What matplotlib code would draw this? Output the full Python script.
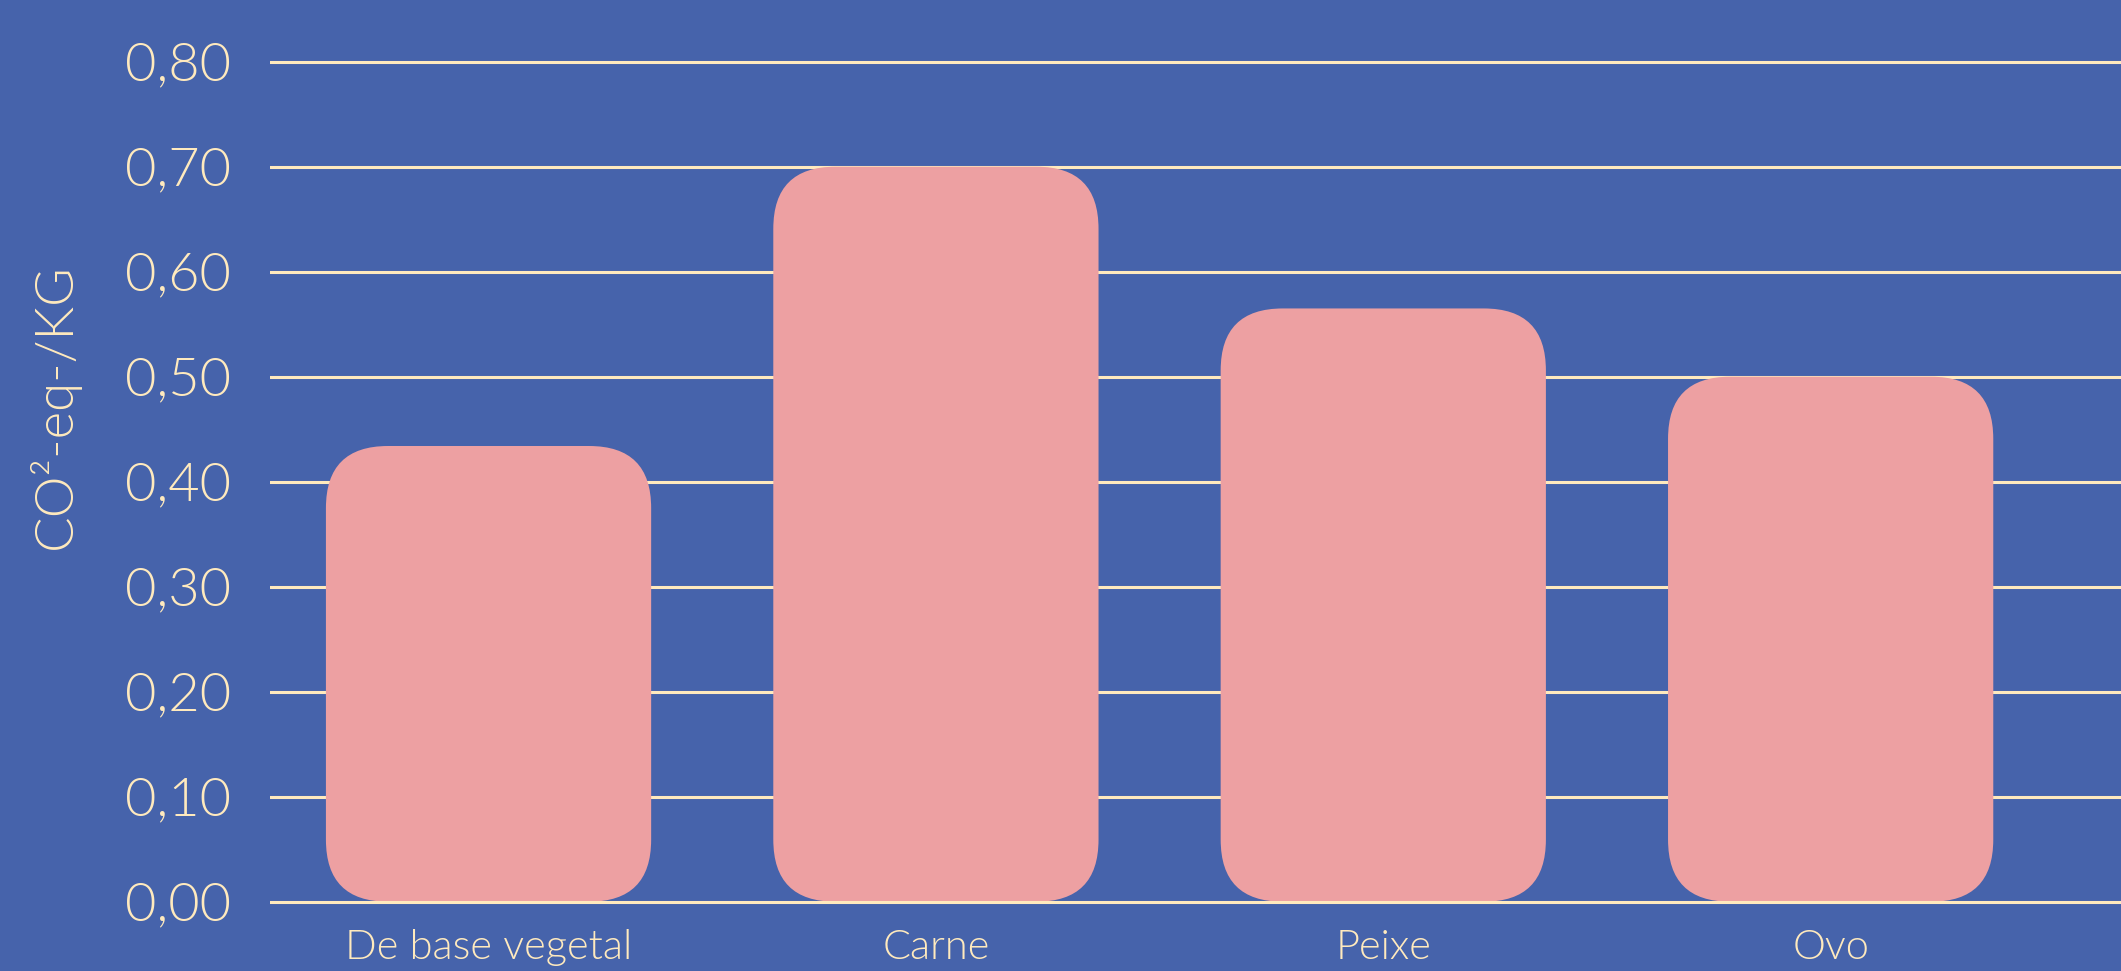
import numpy as np
import matplotlib.pyplot as plt
from matplotlib.patches import FancyBboxPatch

# data
categories = ['De base vegetal', 'Carne', 'Peixe', 'Ovo']
values = [0.434, 0.70, 0.565, 0.50]
yticks = [0.0, 0.1, 0.2, 0.3, 0.4, 0.5, 0.6, 0.7, 0.8]
ylabel = 'CO²-eq-/KG'

bg = '#4663AB'
bar_color = '#EDA0A2'
cream = '#FFEABE'

W, H = 2121, 971
fig = plt.figure(figsize=(W / 100, H / 100), dpi=100, facecolor=bg)
plt.rcParams['font.family'] = ['Lato', 'DejaVu Sans']
FW = 300

# axes box in pixels
left, right, top, bottom = 270, W, 40, 915
ax = fig.add_axes([left / W, (H - bottom) / H, (right - left) / W, (bottom - top) / H])
ax.set_facecolor(bg)

x = np.arange(len(categories))
xlim = (-0.4885, 3.649)
px_per_y = 1050.0  # pixels per 1.0 in y
y0_px = 901.7
ylim = (-(bottom - y0_px) / px_per_y, 0.8 + (61.7 - top) / px_per_y)
ax.set_xlim(*xlim)
ax.set_ylim(*ylim)

# rounded bars: use ax.bar for geometry, then redraw rounded
bars = ax.bar(x, values, width=0.727, color='none', edgecolor='none')
px_per_x = (right - left) / (xlim[1] - xlim[0])
radius_px = 62
for b in bars:
    bx, by = b.get_x(), b.get_y()
    bw, bh = b.get_width(), b.get_height()
    p = FancyBboxPatch((bx, by), bw, bh,
                       boxstyle='round,pad=0,rounding_size=%f' % (radius_px / px_per_x),
                       mutation_aspect=px_per_x / px_per_y,
                       facecolor=bar_color, edgecolor='none', zorder=2)
    ax.add_patch(p)

# gridlines
for t in yticks:
    ax.axhline(t, color=cream, lw=2.2, zorder=3 if t == 0 else 1)

for s in ax.spines.values():
    s.set_visible(False)

ax.set_yticks(yticks)
ax.set_yticklabels([('%.2f' % t).replace('.', ',') for t in yticks])
ax.tick_params(axis='y', length=0, pad=28, labelsize=39, labelcolor=cream)
for lab in ax.get_yticklabels():
    lab.set_fontweight(FW)

ax.set_xticks(x)
ax.set_xticklabels(categories)
ax.tick_params(axis='x', length=0, pad=10, labelsize=30, labelcolor=cream)
for lab in ax.get_xticklabels():
    lab.set_fontweight(FW)

fig.text(54 / W, 1 - 406 / H, ylabel, rotation=90, ha='center', va='center',
         color=cream, fontsize=38, fontweight=FW)

fig.savefig('out.png', dpi=100, facecolor=bg)
